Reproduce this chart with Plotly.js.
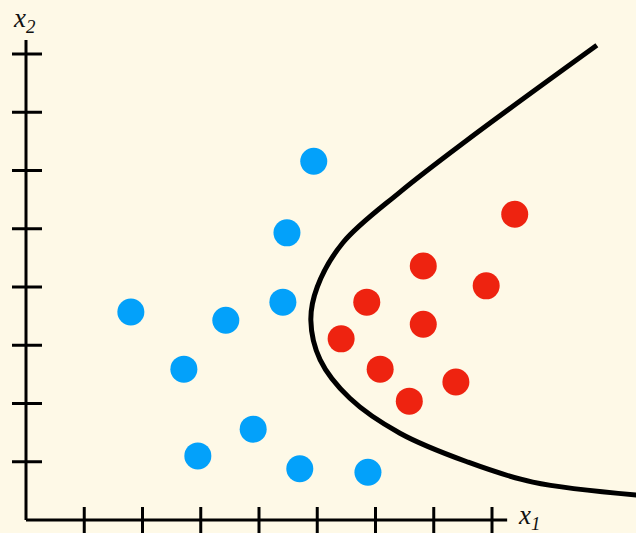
<!DOCTYPE html>
<html>
<head>
<meta charset="utf-8">
<script src="https://cdn.plot.ly/plotly-3.0.1.min.js"></script>
<style>html,body{margin:0;padding:0;background:#fef9e7;}#chart{width:636px;height:533px;}</style>
</head>
<body>
<div id="chart"></div>
<script>
// Class A (blue) points
const blueX = [1.80, 2.71, 3.43, 2.95, 3.90, 4.41, 4.48, 4.94, 4.70, 5.87];
const blueY = [3.57, 2.59, 3.43, 1.10, 1.56, 3.74, 4.93, 6.16, 0.88, 0.82];
// Class B (red) points
const redX = [5.41, 5.85, 6.08, 6.58, 6.82, 6.82, 7.38, 7.90, 8.39];
const redY = [3.11, 3.74, 2.59, 2.04, 4.36, 3.36, 2.37, 4.02, 5.25];
// Decision boundary
const curveX = [9.80, 7.57, 6.42, 5.44, 5.00, 4.89, 5.05, 5.56, 6.42, 7.57, 8.70, 10.60];
const curveY = [8.15, 6.52, 5.63, 4.76, 4.00, 3.43, 2.75, 2.09, 1.49, 1.00, 0.65, 0.42];
// Tick positions
const xTicks = [1, 2, 3, 4, 5, 6, 7, 8];
const yTicks = [1, 2, 3, 4, 5, 6, 7, 8];

const unit = 58.25;
const W = 636, H = 533, ox = 26, oy = 520;
const xr = [-ox / unit, (W - ox) / unit];
const yr = [-(H - oy) / unit, oy / unit];

const shapes = [];
shapes.push({type: 'line', x0: 0, x1: 8.26, y0: 0, y1: 0, line: {color: '#000', width: 3}});
shapes.push({type: 'line', x0: 0, x1: 0, y0: 0, y1: 8.24, line: {color: '#000', width: 3}});
xTicks.forEach(t => shapes.push({type: 'line', xref: 'x', yref: 'y', ysizemode: 'pixel', yanchor: 0,
  x0: t, x1: t, y0: -14, y1: 13, line: {color: '#000', width: 3}}));
yTicks.forEach(t => shapes.push({type: 'line', xref: 'x', yref: 'y', xsizemode: 'pixel', xanchor: 0,
  x0: -14, x1: 16, y0: t, y1: t, line: {color: '#000', width: 3}}));

const traces = [
  {x: curveX, y: curveY, mode: 'lines', line: {color: '#000', width: 5, shape: 'spline', smoothing: 1}, hoverinfo: 'skip'},
  {x: blueX, y: blueY, mode: 'markers', marker: {size: 27, color: '#03a1fa'}, hoverinfo: 'skip'},
  {x: redX, y: redY, mode: 'markers', marker: {size: 27, color: '#ee2310'}, hoverinfo: 'skip'}
];

const lblFont = {family: 'Liberation Serif, DejaVu Serif, serif', size: 27, color: '#111'};
const layout = {
  width: W, height: H,
  margin: {l: 0, r: 0, t: 0, b: 0},
  paper_bgcolor: '#fef9e7', plot_bgcolor: '#fef9e7',
  showlegend: false,
  xaxis: {range: xr, visible: false, fixedrange: true},
  yaxis: {range: yr, visible: false, fixedrange: true},
  shapes: shapes,
  annotations: [
    {x: (516 - ox) / unit, y: 0.05, xref: 'x', yref: 'y', xanchor: 'left', yanchor: 'middle',
     text: '<i>x<sub>1</sub></i>', showarrow: false, font: lblFont},
    {x: (11 - ox) / unit, y: (oy - 20) / unit, xref: 'x', yref: 'y', xanchor: 'left', yanchor: 'middle',
     text: '<i>x<sub>2</sub></i>', showarrow: false, font: lblFont}
  ]
};
Plotly.newPlot('chart', traces, layout, {staticPlot: true, displayModeBar: false});
</script>
</body>
</html>
